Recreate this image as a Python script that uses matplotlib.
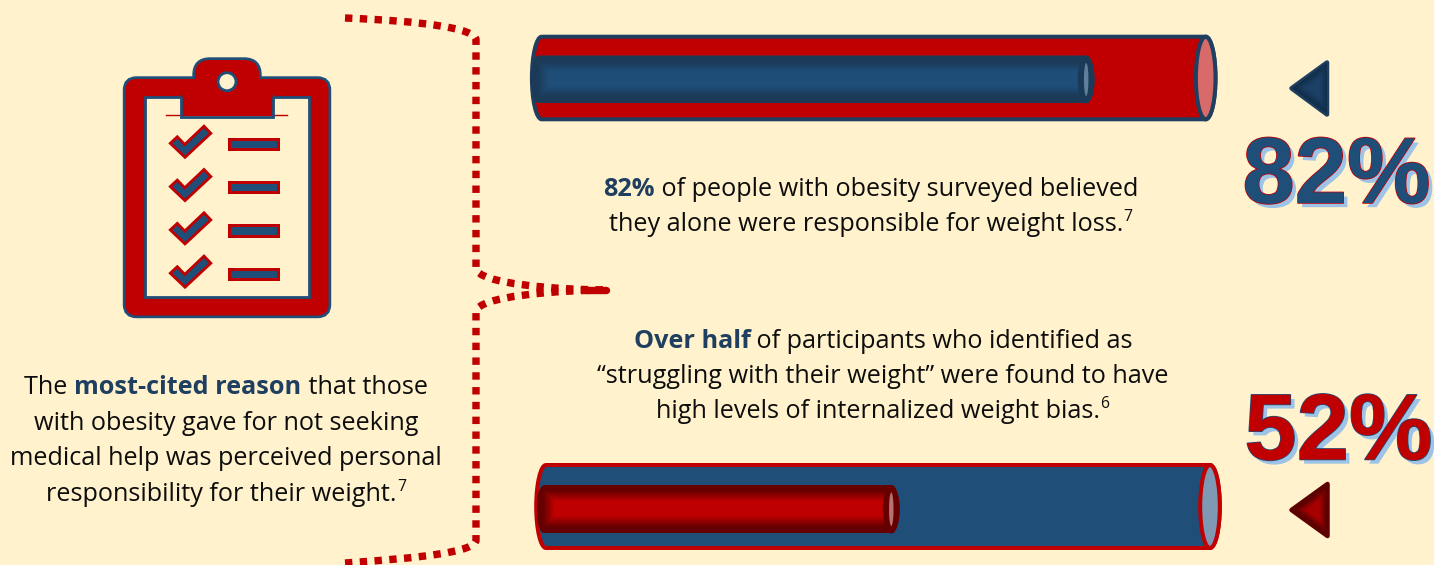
import numpy as np
import matplotlib
matplotlib.use("Agg")
import matplotlib.pyplot as plt
from matplotlib.path import Path
from matplotlib.patches import PathPatch, Ellipse, FancyBboxPatch, Rectangle, Polygon, Circle
from matplotlib.colors import LinearSegmentedColormap
import matplotlib.patheffects as pe

# ---- data ----
percent_values = [82, 52]
left_lines = [
    [("The ", "n"), ("most-cited reason", "b"), (" that those", "n")],
    [("with obesity gave for not seeking", "n")],
    [("medical help was perceived personal", "n")],
    [("responsibility for their weight.", "n"), ("7", "s")],
]
top_lines = [
    [("82%", "b"), (" of people with obesity surveyed believed", "n")],
    [("they alone were responsible for weight loss.", "n"), ("7", "s")],
]
bottom_lines = [
    [("Over half", "b"), (" of participants who identified as", "n")],
    [("\u201cstruggling with their weight\u201d were found to have", "n")],
    [("high levels of internalized weight bias.", "n"), ("6", "s")],
]

BG = "#FFF2CC"
RED = "#C00000"
BLUE = "#1F4E79"
NAVY = "#1F3F60"
DPX = 0.72  # points per pixel at dpi 100

plt.rcParams["font.family"] = ["Open Sans", "DejaVu Sans"]
fig = plt.figure(figsize=(14.34, 5.65), dpi=100, facecolor=BG)
ax = fig.add_axes([0, 0, 1, 1])
ax.set_facecolor(BG)
ax.axis("off")
renderer = fig.canvas.get_renderer()


def capsule(xl, xr, yt, yb, rx):
    k = 0.5523
    ym = (yt + yb) / 2
    ry = (yb - yt) / 2
    v = [(xl, yt), (xr, yt),
         (xr + k * rx, yt), (xr + rx, ym - k * ry), (xr + rx, ym),
         (xr + rx, ym + k * ry), (xr + k * rx, yb), (xr, yb),
         (xl, yb),
         (xl - k * rx, yb), (xl - rx, ym + k * ry), (xl - rx, ym),
         (xl - rx, ym - k * ry), (xl - k * rx, yt), (xl, yt)]
    c = [Path.MOVETO, Path.LINETO] + [Path.CURVE4] * 6 + [Path.LINETO] + [Path.CURVE4] * 6
    return Path(v, c)


def bevel(x0, x1, y0, y1, width, edge, center, clip, flat=0.0, z=3):
    nx, ny = int(x1 - x0) + 1, int(y1 - y0) + 1
    xs = np.linspace(x0, x1, nx)
    ys = np.linspace(y0, y1, ny)
    X, Y = np.meshgrid(xs, ys)
    d = np.minimum.reduce([X - x0, x1 - X, Y - y0, y1 - Y])
    t = np.clip((d - flat) / width, 0, 1)
    cmap = LinearSegmentedColormap.from_list("b", [edge, center])
    im = ax.imshow(t, extent=(x0, x1, y1, y0), cmap=cmap, vmin=0, vmax=1,
                   aspect="auto", interpolation="bilinear", zorder=z)
    im.set_clip_path(clip)
    return im


def tube(value, xl, xr, yt, yb, rx, it, ib, il, main, line, end_fill,
         inner_edge, inner_center, slit):
    ax.add_patch(PathPatch(capsule(xl, xr, yt, yb, rx), fc=main, ec=line,
                           lw=4 * DPX, zorder=2))
    ax.add_patch(Ellipse(((xr), (yt + yb) / 2), 2 * rx, yb - yt, fc=end_fill,
                         ec=line, lw=4 * DPX, zorder=2.5))
    xe = xl + (xr - xl) * value / 100
    irx = 8
    p = PathPatch(capsule(il + irx, xe, it, ib, irx), fc="none", ec="none", zorder=3)
    ax.add_patch(p)
    bevel(il, xe + irx, it, ib, 11, inner_edge, inner_center, p, flat=6)
    ym = (it + ib) / 2
    ax.add_patch(Ellipse((xe, ym), 2 * irx + 1, ib - it, fc=inner_edge, ec="none", zorder=4))
    ax.add_patch(Ellipse((xe, ym), 4.5, ib - it - 15, fc=slit, ec="none", zorder=5))


tube(percent_values[0], 541.7, 1205.7, 36.7, 119.3, 9.8, 55.5, 103.5, 531,
     RED, "#1F3F60", "#D96A6A", "#1B3A57", BLUE, "#5F7F9A")
tube(percent_values[1], 546, 1210, 465, 548, 9.8, 485, 533.5, 536.5,
     BLUE, RED, "#7F99B5", "#660000", "#BE0000", "#B87070")

# ---- dotted brace ----
brace_v = [(345, 18), (420, 21), (476, 28), (476, 40), (476, 268),
           (476, 284), (560, 290), (610, 290)]
brace_c = [Path.MOVETO, Path.CURVE4, Path.CURVE4, Path.CURVE4, Path.LINETO,
           Path.CURVE4, Path.CURVE4, Path.CURVE4]
brace_v2 = [(345, 563), (420, 558), (476, 552), (476, 540), (476, 312),
            (476, 296), (560, 290), (610, 290)]
for v, c in ((brace_v, brace_c), (brace_v2, brace_c)):
    ax.add_patch(PathPatch(Path(v, c), fc="none", ec=RED, lw=7.4 * DPX,
                           linestyle=(0, (1.0, 1.0)), capstyle="butt", zorder=2))
ax.plot([586, 606], [290, 290], color=RED, lw=7.4 * DPX, solid_capstyle="round", zorder=2)

# ---- clipboard ----
def rrect(x0, y0, x1, y1, r, **kw):
    return FancyBboxPatch((x0 + r, y0 + r), x1 - x0 - 2 * r, y1 - y0 - 2 * r,
                          boxstyle=f"round,pad={r},rounding_size={r}", **kw)

for kw in (dict(fc=BLUE, ec=BLUE, lw=5.4 * DPX, zorder=3),
           dict(fc=RED, ec="none", zorder=3.1)):
    ax.add_patch(rrect(125.5, 79, 328.5, 315.5, 11, **kw))
    ax.add_patch(rrect(195, 60, 259, 100, 15, **kw))
ax.add_patch(Rectangle((145, 97), 164.3, 199.7, fc=BG, ec=BLUE, lw=2.8 * DPX, zorder=3.2))
ax.plot([166, 287], [114.7, 114.7], color=RED, lw=1.4 * DPX, zorder=3.25)
ax.add_patch(Rectangle((181, 96), 92.3, 20, fc=RED, ec="none", zorder=3.3))
ax.plot([181, 181, 273.3, 273.3], [96, 116.5, 116.5, 96], color=BLUE, lw=2.8 * DPX,
        solid_joinstyle="miter", zorder=3.35)
ax.add_patch(Rectangle((181, 92), 92.3, 5, fc=RED, ec="none", zorder=3.4))
ax.add_patch(Circle((227, 81.7), 9, fc=BG, ec=BLUE, lw=2.8 * DPX, zorder=3.5))
check = np.array([(170.3, 143.3), (177.3, 136.8), (184.7, 144.5), (204, 126.2),
                  (210.8, 133.3), (185, 157.3)])
for i in range(4):
    dy = i * 43.3
    ax.add_patch(Polygon(check + [0, dy], closed=True, fc=BLUE, ec=RED, lw=2.8 * DPX,
                         joinstyle="miter", zorder=3.6))
    ax.add_patch(Rectangle((229.3, 138.7 + dy), 48.8, 10.4, fc=BLUE, ec=RED, lw=3 * DPX,
                           joinstyle="miter", zorder=3.6))


# ---- rich text ----
SIZE_PX = 25.3

def style(kind):
    if kind == "b":
        return dict(fontsize=SIZE_PX * DPX, fontweight="bold", color=NAVY)
    if kind == "s":
        return dict(fontsize=SIZE_PX * DPX * 0.62, fontweight="normal", color="#0D0D0D")
    return dict(fontsize=SIZE_PX * DPX, fontweight="normal", color="#0D0D0D")


def width(s, st):
    def w(t):
        tx = ax.text(0, 0, t, **st)
        e = tx.get_window_extent(renderer).width
        tx.remove()
        return e
    return w("." + s + ".") - w("..")


def rich(lines, cx, ys):
    for segs, y in zip(lines, ys):
        ws = [width(t, style(k)) for t, k in segs]
        x = cx - sum(ws) / 2
        for (t, k), wd in zip(segs, ws):
            yy = y - 10 if k == "s" else y
            ax.text(x, yy, t.replace(" ", "\u00a0") if t.startswith(" ") or t.endswith(" ") else t,
                    ha="left", va="baseline", zorder=6, **style(k))
            x += wd


rich(left_lines, 226, [394, 430, 465, 501])
rich(top_lines, 871, [196, 231])
rich(bottom_lines, 883, [348, 383, 418])


# ---- triangles ----
def triangle(tip, top, bot, edge, dark, center):
    pts = np.array([tip, top, bot])
    ax.add_patch(Polygon(pts, closed=True, fc=edge, ec=edge, lw=4.5 * DPX,
                         joinstyle="round", zorder=3))
    clip = Polygon(pts, closed=True, fc="none", ec="none", zorder=3.1)
    ax.add_patch(clip)
    x0, x1, y0, y1 = tip[0], top[0], top[1], bot[1]
    X, Y = np.meshgrid(np.linspace(x0, x1, 80), np.linspace(y0, y1, 80))
    dists = [x1 - X]
    for a, b, sign in ((pts[0], pts[1], 1), (pts[0], pts[2], -1)):
        dx, dy = b - a
        dists.append(sign * (dx * (Y - a[1]) - dy * (X - a[0])) / np.hypot(dx, dy))
    d = np.minimum.reduce(dists)
    t = np.clip((d - 1.5) / 7, 0, 1)
    im = ax.imshow(t, extent=(x0, x1, y1, y0), aspect="auto", vmin=0, vmax=1,
                   cmap=LinearSegmentedColormap.from_list("t", [dark, center]),
                   interpolation="bilinear", zorder=3.2)
    im.set_clip_path(clip)


triangle((1291.5, 88.3), (1327, 62.5), (1327, 114.5), "#1F3F60", "#12304D", "#1D4066")
triangle((1291.5, 510), (1327.5, 484), (1327.5, 536), "#5C0000", "#5C0000", "#A80000")

# ---- big numbers ----
big = dict(fontsize=94 * DPX, fontweight="bold", family=["Liberation Sans", "DejaVu Sans"],
           ha="center", va="baseline", zorder=7)
SHADOW = "#9DC3E6"
ax.text(1336.5, 203, f"{percent_values[0]}%", color=BLUE, path_effects=[
    pe.SimplePatchShadow(offset=(3.0, -3.0), shadow_rgbFace=SHADOW, alpha=1, rho=1),
    pe.Stroke(linewidth=1.1, foreground=RED), pe.Normal()], **big)
ax.text(1338.5, 459.5, f"{percent_values[1]}%", color=RED, path_effects=[
    pe.SimplePatchShadow(offset=(3.0, -3.0), shadow_rgbFace=SHADOW, alpha=1, rho=1),
    pe.Stroke(linewidth=1.1, foreground=BLUE), pe.Normal()], **big)

ax.set_xlim(0, 1434)
ax.set_ylim(565, 0)
fig.savefig("out.png", dpi=100, facecolor=BG)
